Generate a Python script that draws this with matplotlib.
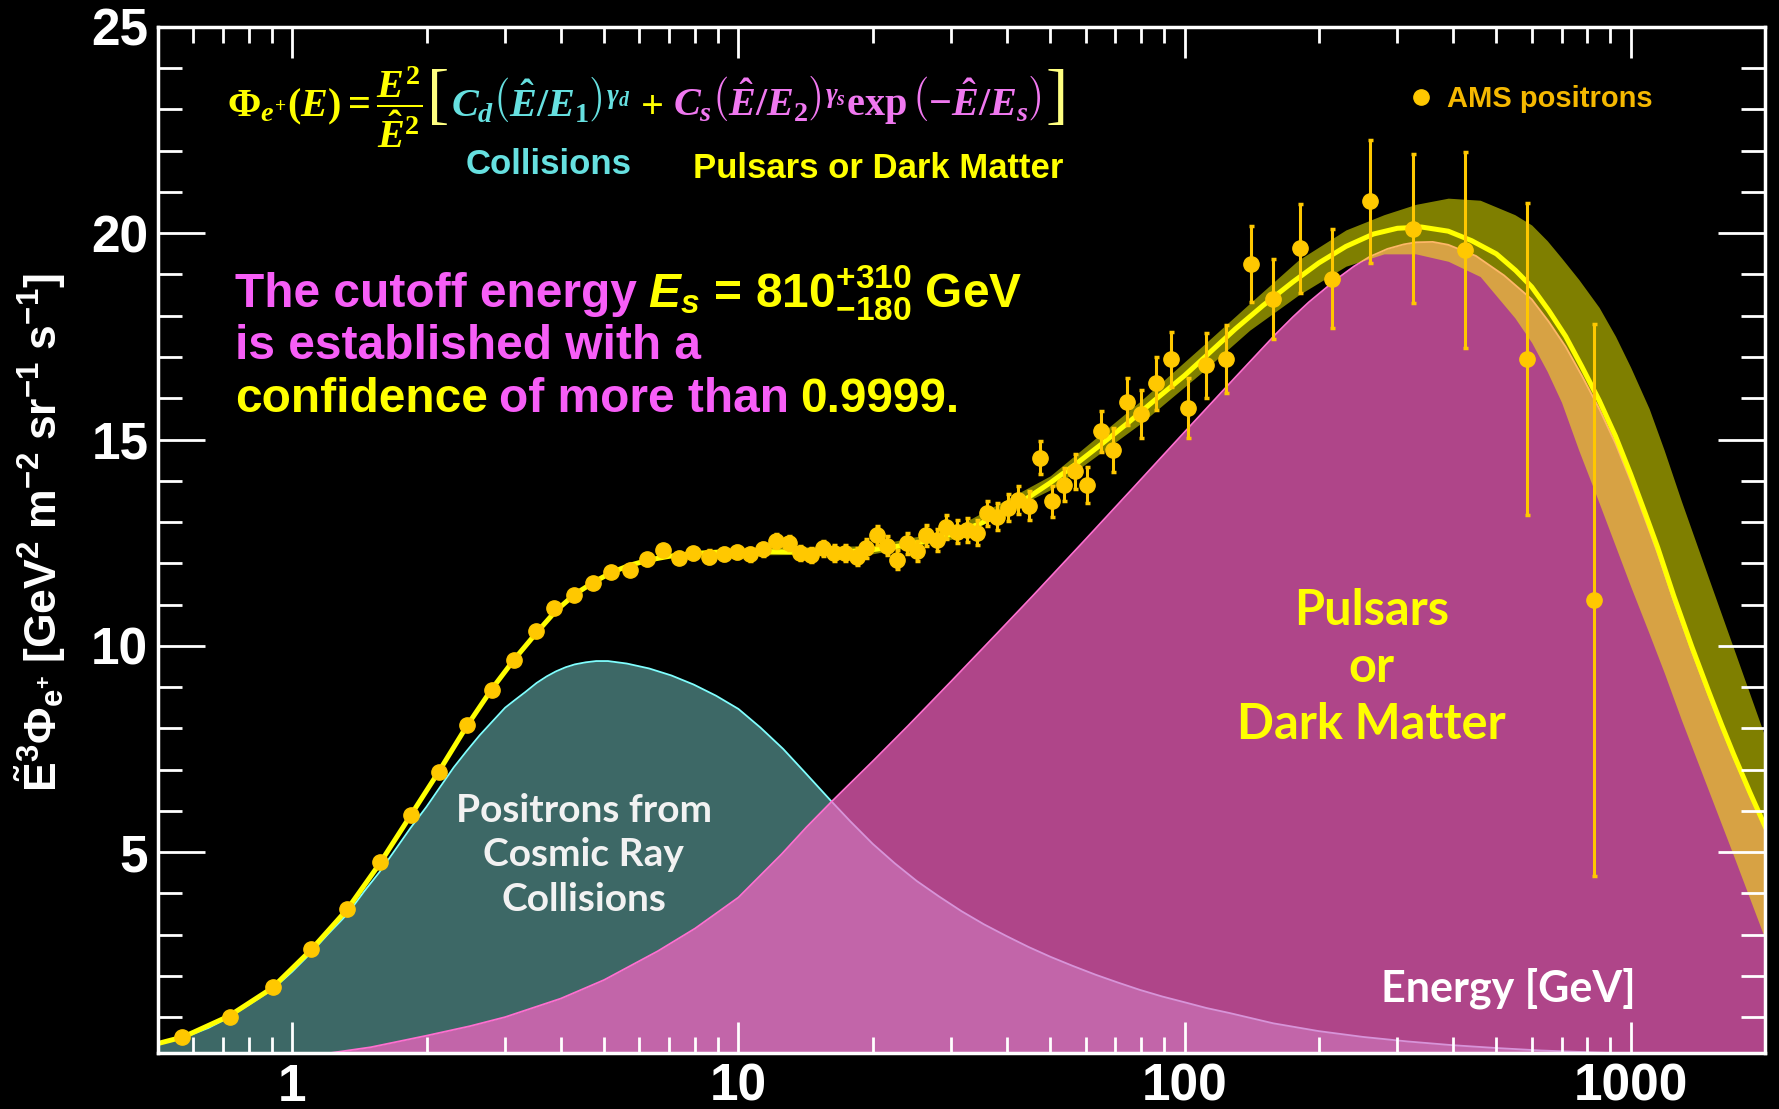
import matplotlib
matplotlib.use('Agg')
import matplotlib.pyplot as plt
from matplotlib import transforms
from matplotlib.lines import Line2D
from matplotlib.ticker import MultipleLocator, LogLocator, NullFormatter

# AMS positrons, E^3 * flux
ams_energy = [0.567, 0.724, 0.905, 1.103, 1.323, 1.572, 1.842, 2.132, 2.458, 2.806,
              3.148, 3.527, 3.87, 4.28, 4.72, 5.19, 5.71, 6.23, 6.78, 7.36,
              7.91, 8.58, 9.26, 9.95, 10.6, 11.36, 12.17, 12.96, 13.73, 14.58,
              15.45, 16.37, 17.38, 18.41, 19.37, 20.46, 21.52, 22.71, 23.85, 25.08,
              26.34, 27.82, 29.2, 30.84, 32.6, 34.2, 36.0, 38.0, 40.2, 42.4,
              44.8, 47.4, 50.5, 53.6, 56.8, 60.6, 64.9, 69.2, 74.4, 79.7,
              86.1, 93.4, 101.8, 111.9, 124, 140.6, 158, 181.4, 214.3, 259.8,
              324.9, 424.8, 586, 826.8]
ams_flux = [0.51, 1.01, 1.72, 2.65, 3.62, 4.75, 5.91, 6.94, 8.08, 8.92,
            9.65, 10.35, 10.91, 11.22, 11.53, 11.80, 11.84, 12.10, 12.32, 12.14,
            12.24, 12.16, 12.22, 12.27, 12.22, 12.34, 12.54, 12.48, 12.25, 12.20,
            12.36, 12.25, 12.25, 12.16, 12.36, 12.68, 12.42, 12.09, 12.48, 12.30,
            12.68, 12.56, 12.88, 12.76, 12.80, 12.74, 13.21, 13.13, 13.35, 13.53,
            13.39, 14.56, 13.50, 13.90, 14.23, 13.90, 15.20, 14.74, 15.91, 15.61,
            16.36, 16.94, 15.77, 16.80, 16.95, 19.25, 18.40, 19.63, 18.90, 20.78,
            20.11, 19.60, 16.96, 11.11]
ams_err = [0.02, 0.03, 0.03, 0.04, 0.05, 0.06, 0.07, 0.08, 0.09, 0.10,
           0.10, 0.11, 0.11, 0.12, 0.12, 0.12, 0.13, 0.13, 0.13, 0.14,
           0.14, 0.15, 0.15, 0.15, 0.16, 0.16, 0.17, 0.17, 0.18, 0.18,
           0.19, 0.19, 0.20, 0.21, 0.22, 0.23, 0.23, 0.24, 0.25, 0.25,
           0.26, 0.27, 0.28, 0.28, 0.29, 0.30, 0.31, 0.32, 0.33, 0.34,
           0.35, 0.40, 0.38, 0.40, 0.42, 0.44, 0.50, 0.53, 0.57, 0.58,
           0.65, 0.67, 0.73, 0.79, 0.83, 0.92, 0.97, 1.08, 1.20, 1.49,
           1.81, 2.37, 3.78, 6.7]

# total fit (yellow line)
fit_energy = [0.5, 0.57, 0.72, 0.9, 1.1, 1.33, 1.57, 1.84, 2.13, 2.46,
              2.8, 3.15, 3.53, 3.9, 4.3, 4.75, 5.2, 5.7, 6.3, 7,
              8, 9, 10, 12, 14, 16, 18, 20, 23, 26,
              30, 35, 40, 45, 50, 57, 65, 75, 85, 100,
              115, 130, 150, 175, 200, 230, 265, 300, 340, 390,
              440, 500, 552, 600, 655, 715, 778, 850, 925, 1000,
              1079, 1150, 1250, 1371, 1500, 1600, 1700, 1850, 2000]
fit_flux = [0.36, 0.52, 1.02, 1.70, 2.62, 3.62, 4.72, 5.88, 6.95, 8.05,
            8.95, 9.68, 10.32, 10.85, 11.25, 11.55, 11.78, 11.95, 12.08, 12.17,
            12.24, 12.27, 12.28, 12.28, 12.27, 12.27, 12.29, 12.33, 12.42, 12.53,
            12.70, 12.97, 13.28, 13.62, 13.95, 14.40, 14.88, 15.42, 15.92, 16.55,
            17.15, 17.68, 18.25, 18.82, 19.28, 19.68, 19.98, 20.12, 20.15, 20.05,
            19.82, 19.50, 19.10, 18.70, 18.13, 17.50, 16.76, 15.95, 15.08, 14.16,
            13.20, 12.38, 11.20, 9.98, 8.86, 8.08, 7.38, 6.45, 5.63]

# fit uncertainty band
band_energy = [10, 20, 30, 50, 80, 110, 140, 180, 230, 280,
               330, 390, 460, 550, 600, 650, 700, 765, 850, 925,
               1000, 1100, 1189, 1300, 1500, 1700, 2000]
band_low = [12.20, 12.23, 12.58, 13.78, 15.40, 16.65, 17.65, 18.50, 19.20, 19.50,
            19.50, 19.32, 18.95, 17.95, 17.35, 16.65, 15.90, 14.74, 13.46, 12.41,
            11.44, 10.30, 9.35, 8.20, 6.45, 4.92, 2.90]
band_high = [12.36, 12.43, 12.82, 14.12, 15.95, 17.28, 18.30, 19.35, 20.08, 20.45,
             20.70, 20.85, 20.80, 20.45, 20.20, 19.82, 19.40, 18.88, 18.20, 17.50,
             16.75, 15.75, 14.74, 13.50, 11.60, 9.95, 7.80]

# collision term (teal)
coll_energy = [0.5, 0.57, 0.65, 0.72, 0.8, 0.9, 1.0, 1.1, 1.2, 1.33,
               1.45, 1.57, 1.7, 1.84, 2.0, 2.13, 2.3, 2.46, 2.63, 2.8,
               3.0, 3.15, 3.33, 3.53, 3.72, 3.9, 4.1, 4.3, 4.55, 4.8,
               5.1, 5.62, 6.31, 7.08, 7.94, 8.91, 10, 11.2, 12.6, 14.1,
               16.1, 17.8, 20, 22.4, 25.1, 28.2, 31.6, 35.5, 39.8, 44.7,
               50.1, 56.2, 63.1, 70.8, 79.4, 89.1, 100, 112, 126, 158,
               200, 251, 316, 398, 501, 631, 1000, 2000]
coll_flux = [0.35, 0.50, 0.74, 0.99, 1.30, 1.66, 2.10, 2.55, 3.00, 3.50,
             4.05, 4.52, 5.05, 5.58, 6.10, 6.53, 7.05, 7.45, 7.83, 8.15,
             8.50, 8.68, 8.88, 9.10, 9.26, 9.38, 9.48, 9.55, 9.60, 9.63,
             9.63, 9.57, 9.45, 9.28, 9.06, 8.79, 8.47, 8.02, 7.50, 6.93,
             6.25, 5.75, 5.20, 4.73, 4.30, 3.92, 3.57, 3.25, 2.97, 2.70,
             2.46, 2.24, 2.03, 1.84, 1.66, 1.50, 1.36, 1.22, 1.10, 0.85,
             0.66, 0.52, 0.41, 0.32, 0.25, 0.19, 0.11, 0.05]

# source term (magenta)
src_energy = [0.95, 1.2, 1.5, 2.0, 2.5, 3.0, 4.0, 5.0, 6.6, 8.0,
              10, 12.5, 14.2, 16.1, 20, 24, 30, 38, 45.6, 60,
              76, 100, 128, 160, 175, 190, 200, 220, 240, 260,
              285, 310, 330, 360, 390, 450, 520, 600, 655, 715,
              778, 850, 925, 1000, 1079, 1150, 1250, 1371, 1500, 1600,
              1700, 1850, 2000]
src_flux = [0.0, 0.12, 0.27, 0.55, 0.78, 1.00, 1.45, 1.90, 2.60, 3.15,
            3.90, 4.95, 5.60, 6.20, 7.20, 8.06, 9.14, 10.30, 11.20, 12.58,
            13.78, 15.18, 16.43, 17.55, 17.97, 18.33, 18.53, 18.90, 19.20, 19.43,
            19.62, 19.73, 19.78, 19.79, 19.72, 19.45, 18.98, 18.40, 17.86, 17.25,
            16.54, 15.75, 14.90, 14.00, 13.05, 12.24, 11.08, 9.87, 8.76, 8.00,
            7.30, 6.38, 5.57]

xtick_vals = [1, 10, 100, 1000]
xtick_labels = ['1', '10', '100', '1000']
ytick_vals = [5, 10, 15, 20, 25]

gold = '#ffc800'
yellow = '#ffff00'
magenta = '#f75ef7'
cyan_txt = '#66e0e0'
pink_txt = '#f078f0'
sans = 'Liberation Sans'

plt.rcParams['mathtext.fontset'] = 'custom'
plt.rcParams['mathtext.rm'] = 'Liberation Serif:bold'
plt.rcParams['mathtext.it'] = 'Liberation Serif:italic:bold'
plt.rcParams['mathtext.bf'] = 'Liberation Serif:bold'
plt.rcParams['mathtext.sf'] = 'Liberation Sans:bold'
plt.rcParams['mathtext.tt'] = 'Liberation Sans:bold'
plt.rcParams['mathtext.cal'] = 'Liberation Sans:italic:bold'

fig = plt.figure(figsize=(17.79, 11.09), dpi=100, facecolor='black')
ax = fig.add_axes([0.0888, 0.0505, 0.9033, 0.9252])
ax.set_facecolor('black')

# components and fit
ax.fill_between(coll_energy, 0, coll_flux, color='#3d6866', lw=0, zorder=1)
ax.plot(coll_energy, coll_flux, color='#80ffff', lw=1.3, zorder=1.1)
ax.fill_between(src_energy, 0, src_flux, color='#ff65c8', alpha=0.69, lw=0, zorder=2)
ax.plot(src_energy, src_flux, color='#ff6fd0', lw=1.3, zorder=2.1)
ax.fill_between(band_energy, band_low, band_high, color='yellow', alpha=0.5, lw=0, zorder=3)
ax.plot(fit_energy, fit_flux, color=yellow, lw=3.6, zorder=4)
ax.errorbar(ams_energy, ams_flux, yerr=ams_err, fmt='o', color=gold, mec=gold, ms=11,
            elinewidth=2.2, capsize=1.8, capthick=2.5, zorder=6)

ax.set_xscale('log')
ax.set_xlim(0.5, 2000)
ax.set_ylim(0.13, 25)
ax.set_xticks(xtick_vals)
ax.set_xticklabels(xtick_labels)
ax.xaxis.set_minor_locator(LogLocator(base=10, subs=range(2, 10), numticks=20))
ax.xaxis.set_minor_formatter(NullFormatter())
ax.set_yticks(ytick_vals)
ax.yaxis.set_minor_locator(MultipleLocator(1))
ax.tick_params(which='both', direction='in', colors='white', top=True, right=True, width=2)
ax.tick_params(axis='x', which='major', length=22, pad=7)
ax.tick_params(axis='x', which='minor', length=11.5)
ax.tick_params(axis='y', which='major', length=34, pad=7)
ax.tick_params(axis='y', which='minor', length=17)
for lab in ax.get_xticklabels() + ax.get_yticklabels():
    lab.set_fontfamily(sans)
    lab.set_fontweight('bold')
    lab.set_fontsize(37)
for sp in ax.spines.values():
    sp.set_color('white')
    sp.set_linewidth(2.5)
    sp.set_zorder(8)
ax.xaxis.set_zorder(7)
ax.yaxis.set_zorder(7)

ax.set_ylabel(r'$\mathsf{\tilde{E}^{3}\Phi_{e^{+}}\ [GeV^{2}\ m^{-2}\ sr^{-1}\ s^{-1}]}$',
              color='white', fontsize=32)
ax.yaxis.set_label_coords(-0.056, 0.507)
ax.set_xlabel('Energy [GeV]', color='white', fontsize=31, family='Lato', weight='bold',
              va='baseline')
ax.xaxis.set_label_coords(0.84, 0.0498)

ax.text(4.5, 4.93, 'Positrons from\nCosmic Ray\nCollisions', ha='center', va='center',
        color='#f2f2f2', fontsize=28, family='Lato', weight='bold', linespacing=1.33)
ax.text(262, 9.48, 'Pulsars\nor\nDark Matter', ha='center', va='center',
        color=yellow, fontsize=35, family='Lato', weight='bold', linespacing=1.33)

ax.legend([Line2D([], [], ls='none', marker='o', ms=11, color=gold)], ['AMS positrons'],
          loc='center left', bbox_to_anchor=(0.7785, 0.93), frameon=False,
          handlelength=0.8, handletextpad=0.5, borderpad=0, borderaxespad=0,
          prop={'family': sans, 'weight': 'bold', 'size': 21},
          labelcolor='#f5b800')

ax.text(0.2428, 0.866, 'Collisions', transform=ax.transAxes, ha='center', va='center',
        color=cyan_txt, fontsize=25, family=sans, weight='bold')
ax.text(0.4483, 0.8624, 'Pulsars or Dark Matter', transform=ax.transAxes, ha='center',
        va='center', color=yellow, fontsize=25, family=sans, weight='bold')


def colored_line(x, y, parts, **kw):
    # pieces of text in a row on one baseline, each with its own colour
    renderer = fig.canvas.get_renderer()
    tr = ax.transAxes
    for s, color, gap, extra in parts:
        tr = transforms.offset_copy(tr, x=gap, units='dots')
        t = ax.text(x, y, s, color=color, transform=tr, va='baseline', **{**kw, **extra})
        w = t.get_window_extent(renderer).width
        tr = transforms.offset_copy(tr, x=w, units='dots')


# formula
colored_line(0.043, 0.913, [
    (r'$\Phi_{e^{+}}(E) = \dfrac{E^{2}}{\hat{E}^{2}}$', yellow, 0, {}),
    ('[', '#ffff80', 4, {'family': 'Liberation Serif', 'fontsize': 48}),
    (r'$C_{d}\left(\hat{E}/E_{1}\right)^{\gamma_{d}}$', cyan_txt, 2, {}),
    (r'$+$', yellow, 10, {}),
    (r'$C_{s}\left(\hat{E}/E_{2}\right)^{\gamma_{s}}\exp\left(-\hat{E}/E_{s}\right)$', pink_txt, 10, {}),
    (']', '#ffff80', 4, {'family': 'Liberation Serif', 'fontsize': 48}),
], fontsize=29)

# cutoff energy statement
big = {'fontsize': 34.5, 'family': sans, 'weight': 'bold'}
colored_line(0.048, 0.727, [
    ('The cutoff energy', magenta, 0, {}),
    (r'$\mathcal{E}_{\mathcal{s}}\,\mathtt{=}\,\mathtt{810^{+310}_{-180}\ GeV}$', yellow, 11, {}),
], **big)
colored_line(0.048, 0.676, [
    ('is established with a', magenta, 0, {}),
], **big)
colored_line(0.048, 0.6245, [
    ('confidence', yellow, 0, {}),
    ('of more than', magenta, 11, {}),
    ('0.9999.', yellow, 11, {}),
], **big)

fig.savefig('out.png', dpi=100, facecolor='black')
